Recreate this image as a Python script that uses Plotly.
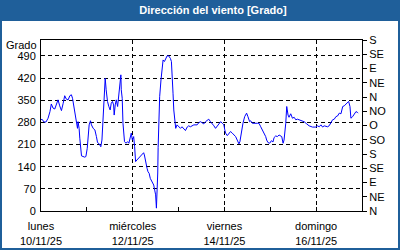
import pandas as pd
import plotly.graph_objects as go

# hours since 2025-11-10 00:00 and wind direction (degrees)
hours = [0, 0.5, 1.6, 2.6, 3.7, 4.7, 5.4, 6.3, 7.2, 8.0, 8.9, 9.8, 10.7, 11.6, 12.4, 13.3, 14.2, 15.1, 15.9, 16.5,
         17.2, 17.7, 18.5, 19.1, 19.4, 19.95, 20.3, 20.6, 21.2, 22.9, 23.5, 24.2, 24.7, 25.2, 25.9, 26.4, 27.3, 28.2,
         29.0, 29.6, 30.5, 31.3, 31.9, 32.4, 32.7, 33.2, 33.6, 34.1, 34.8, 35.5, 36.2, 36.75, 37.4, 38.0, 38.3, 38.85,
         39.4, 40.1, 40.6, 41.1, 41.5, 41.8, 42.0, 42.5, 42.9, 43.2, 43.7, 44.5, 45.3, 46.0, 46.7, 47.25, 47.8, 48.5,
         49.0, 49.5, 50.2, 51.1, 52.0, 52.9, 53.7, 54.1, 54.8, 55.5, 56.0, 56.6, 57.2, 58.1, 59.0, 59.5, 60.0, 60.4,
         60.8, 61.1, 61.3, 61.6, 62.1, 62.8, 63.4, 63.9, 64.6, 65.3, 66.0, 66.8, 67.7, 68.25, 68.8, 69.1, 69.5, 70.0,
         70.5, 71.2, 72.1, 73.0, 73.8, 74.7, 75.6, 76.5, 77.3, 78.2, 80.0, 81.7, 82.6, 83.5, 84.4, 85.2, 86.1, 87.0,
         87.8, 88.7, 89.6, 90.5, 91.35, 92.2, 93.1, 94.0, 94.9, 95.7, 96.2, 96.6, 97.5, 98.3, 99.2, 100.1, 101.0,
         101.85, 102.7, 103.6, 104.1, 104.8, 105.7, 106.6, 107.1, 107.6, 108.3, 109.2, 109.7, 110.6, 113.2, 114.1,
         115.0, 115.9, 116.7, 117.6, 118.1, 118.8, 119.7, 120.6, 121.4, 122.0, 122.85, 123.7, 124.6, 125.5, 126.0,
         126.7, 127.2, 128.1, 128.6, 129.3, 129.8, 130.7, 131.6, 132.5, 133.35, 134.2, 136.0, 137.7, 139.1, 140.3,
         142.1, 143.85, 144.7, 145.6, 146.5, 147.4, 148.2, 150.0, 150.8, 151.7, 152.6, 153.5, 154.35, 155.2, 156.1,
         157.0, 157.9, 158.7, 159.6, 160.5, 161.0, 161.7, 162.2, 163.1, 164.0, 164.85, 165.7, 166.0]
direction = [288, 290, 281, 281, 293, 314, 338, 325, 322, 335, 351, 332, 317, 340, 364, 353, 351, 364, 367, 356,
             330, 309, 277, 261, 282, 261, 230, 203, 174, 170, 172, 198, 235, 272, 285, 272, 261, 256,
             235, 216, 212, 203, 224, 288, 351, 393, 419, 383, 346, 330, 319, 340, 346, 335, 303, 335,
             351, 330, 356, 393, 414, 430, 383, 356, 277, 235, 219, 214, 219, 214, 235, 246, 224, 235,
             203, 156, 161, 167, 172, 177, 184, 177, 151, 135, 124, 119, 103, 93, 82, 66, 51, 9,
             60, 120, 200, 300, 361, 414, 451, 477, 472, 482, 490, 490, 482, 472, 425, 372, 319, 282,
             261, 272, 266, 261, 266, 261, 254, 265, 269, 266, 272, 272, 279, 282, 279, 275, 282, 285,
             290, 282, 277, 269, 261, 269, 277, 282, 277, 272, 256, 246, 238, 246, 251, 246, 240,
             235, 224, 212, 219, 246, 277, 298, 307, 309, 298, 282, 285, 277, 277, 277,
             266, 256, 246, 235, 224, 216, 214, 222, 218, 232, 237, 235, 240, 238, 235,
             214, 224, 277, 330, 303, 296, 307, 293, 296, 288, 290, 285, 282, 275, 269,
             265, 265, 269, 266, 272, 265, 269, 266, 269, 279, 288, 290, 298, 300, 309,
             307, 330, 332, 338, 342, 346, 330, 293, 298, 307, 314, 311, 309]

x_tick_dates = ["2025-11-10", "2025-11-12", "2025-11-14", "2025-11-16"]
x_tick_labels = ["lunes<br>10/11/25", "miércoles<br>12/11/25", "viernes<br>14/11/25", "domingo<br>16/11/25"]
y_ticks = [0, 70, 140, 210, 280, 350, 420, 490]
compass_vals = [0, 45, 90, 135, 180, 225, 270, 315, 360, 405, 450, 495, 540]
compass_labels = ["N", "NE", "E", "SE", "S", "SO", "O", "NO", "N", "NE", "E", "SE", "S"]

start = pd.Timestamp("2025-11-10 00:00")
times = [start + pd.Timedelta(hours=h) for h in hours]

W, H = 400, 250
L, R, T, B = 41, 38, 40, 39
pw, ph = W - L - R, H - T - B


def px(x):
    return (x - L) / pw


def py(y):
    return (H - B - y) / ph


BLUE = "#1f5f9a"
FONT = "Liberation Sans"

fig = go.Figure()
fig.add_trace(go.Scatter(x=times, y=direction, mode="lines",
                         line=dict(color="#0000ff", width=1), hoverinfo="skip"))
fig.add_trace(go.Scatter(x=[times[0]], y=[0], yaxis="y2", mode="markers",
                         marker=dict(opacity=0), hoverinfo="skip"))

fig.update_layout(
    width=W, height=H,
    margin=dict(l=L, r=R, t=T, b=B, autoexpand=False),
    paper_bgcolor=BLUE, plot_bgcolor="white",
    showlegend=False,
    font=dict(family=FONT, size=11, color="black"),
    title=dict(text="<b>Dirección del viento [Grado]</b>", x=213 / W, xref="container",
               y=1 - 10.5 / H, yref="container", xanchor="center", yanchor="middle",
               font=dict(family=FONT, size=11, color="white")),
    xaxis=dict(
        range=[start, start + pd.Timedelta(days=7)],
        tickvals=x_tick_dates, ticktext=x_tick_labels,
        ticks="inside", ticklen=4, tickcolor="black", ticklabelstandoff=5,
        minor=dict(dtick=86400000, ticks="inside", ticklen=4, tickcolor="black", showgrid=False),
        showgrid=True, gridcolor="black", gridwidth=1, griddash="4px,3px",
        showline=True, linecolor="black", linewidth=1, mirror=True,
        zeroline=False, fixedrange=True, automargin=False,
    ),
    yaxis=dict(
        range=[0, 540], tickvals=y_ticks,
        ticks="", showgrid=True, gridcolor="black", gridwidth=1, griddash="4px,3px",
        showline=True, linecolor="black", linewidth=1, mirror=True,
        zeroline=False, fixedrange=True, ticklabelstandoff=2, automargin=False,
    ),
    yaxis2=dict(
        range=[0, 540], overlaying="y", side="right",
        tickvals=compass_vals, ticktext=compass_labels,
        ticks="outside", ticklen=4, tickcolor="black",
        showgrid=False, zeroline=False, showline=True, linecolor="black",
        fixedrange=True, ticklabelstandoff=0, automargin=False,
    ),
    shapes=[
        dict(type="rect", xref="paper", yref="paper", x0=px(2), x1=px(398), y0=py(21), y1=py(248),
             fillcolor="white", line=dict(width=0), layer="below"),
    ],
    annotations=[
        dict(text="Grado", xref="paper", yref="paper", x=px(21.5), y=py(45),
             xanchor="center", yanchor="middle", showarrow=False,
             font=dict(family=FONT, size=11, color="black")),
    ],
)

fig.write_html("out.html", config={"displayModeBar": False})
